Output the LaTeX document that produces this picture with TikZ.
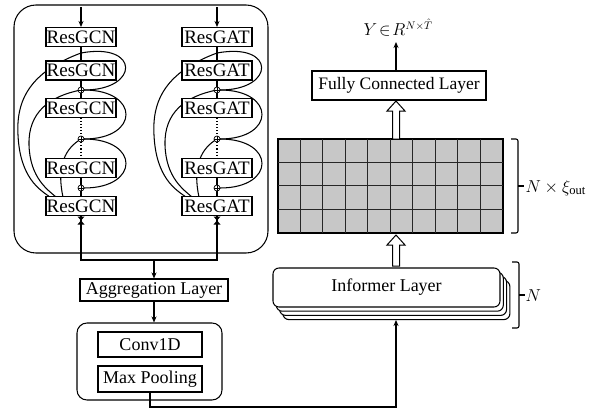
\documentclass[tikz,border=0pt]{standalone}
\usepackage{fontspec}
\setmainfont{Liberation Serif}
\usetikzlibrary{arrows.meta,calc}
\newcommand\fs{\fontsize{18}{20}\selectfont}
\newcommand\fb{\fontsize{19}{21}\selectfont}
\newcommand\mkcol[3]{%
\begin{scope}[xshift=#2]
\coordinate (#1top) at (81,7);
\coordinate (#1j) at (81,53);
\coordinate (#1p1) at (81,90);
\coordinate (#1p2) at (81,139);
\coordinate (#1p3) at (81,188);
% right residual curves
\draw (#1j) .. controls (140,42) and (140,90) .. (84,90);
\draw (84,90) .. controls (140,90) and (140,139) .. (84,139);
\draw (84,139) .. controls (140,139) and (140,188) .. (84,188);
% left dense curves
\draw (#1j) .. controls (30,72) and (16,100) .. (18,135) .. controls (20,178) and (40,190) .. (50,197);
\draw (#1p1) .. controls (50,96) and (28,112) .. (29,145) .. controls (30,178) and (48,190) .. (56,197);
\draw (#1p2) .. controls (66,148) and (56,165) .. (63,197);
\node[blk] (#1b1) at (81,37) {#3};
\node[blk] (#1b2) at (81,70.5) {#3};
\node[blk] (#1b3) at (81,108) {#3};
\node[blk] (#1b4) at (81,168) {#3};
\node[blk] (#1b5) at (81,206) {#3};
\node[sumc] (#1s1) at (#1p1) {};
\node[sumc] (#1s2) at (#1p2) {};
\node[sumc] (#1s3) at (#1p3) {};
\draw[->] (#1top) -- (#1b1.north);
\draw (#1b1.south) -- (#1b2.north);
\draw (#1b2.south) -- (#1s1.north);
\draw (#1s1.south) -- (#1b3.north);
\draw[dotted] (#1b3.south) -- (#1s2.north);
\draw[dotted] (#1s2.south) -- (#1b4.north);
\draw (#1b4.south) -- (#1s3.north);
\draw (#1s3.south) -- (#1b5.north);
\fill (77.5,216.5) -- (84.5,216.5) -- (81,220.5) -- cycle;
\fill (77.5,224.5) -- (84.5,224.5) -- (81,220.5) -- cycle;
\end{scope}}
\newcommand\hollowup[3]{%
\draw[fill=white, line width=1pt] (#1-3.5,#2) -- (#1-3.5,#3+10) -- (#1-9,#3+10) -- (#1,#3) -- (#1+9,#3+10) -- (#1+3.5,#3+10) -- (#1+3.5,#2) -- cycle;}
\begin{document}
\begin{tikzpicture}[x=1pt,y=-1pt, line width=1.05pt,
  >={Stealth[length=6pt,width=5pt]},
  blk/.style={draw, fill=white, minimum width=70pt, minimum height=19pt, inner sep=0pt, font=\fb},
  box/.style={draw, fill=white, inner sep=0pt, font=\fs},
  sumc/.style={draw, circle, fill=white, minimum size=6pt, inner sep=0pt, line width=0.7pt,
    path picture={\draw[line width=0.5pt] (path picture bounding box.north)--(path picture bounding box.south) (path picture bounding box.west)--(path picture bounding box.east);}},
  lab/.style={font=\fs, inner sep=0pt}]
\useasboundingbox (0,0) rectangle (611,410);
\node[draw, rounded corners=22pt, minimum width=254pt, minimum height=248pt, inner sep=0pt] (outer) at (141,129) {};
\mkcol{g}{0pt}{ResGCN}
\mkcol{a}{136pt}{ResGAT}
% aggregation
\node[box, minimum width=148pt, minimum height=22pt] (agg) at (154,290) {Aggregation Layer};
\coordinate (jn) at (154,260);
\draw (gb5.south) |- (jn);
\draw (ab5.south) |- (jn);
\draw[->] (jn) -- (agg.north);
\node[draw, rounded corners=10pt, minimum width=145pt, minimum height=77pt, inner sep=0pt] (cont) at (149.5,361.5) {};
\node[box, minimum width=104pt, minimum height=25pt] (conv) at (150,344.5) {Conv1D};
\node[box, minimum width=104pt, minimum height=26pt] (mp) at (150,379) {Max Pooling};
\draw[->] (agg.south) -- (agg.south |- cont.north);
% informer stack
\foreach \d in {9,6,3}
  \draw[fill=white, rounded corners=6pt] (273+\d*1.1,268+\d*1.4) rectangle (500+\d*1.1,307+\d*1.4);
\node[box, rounded corners=6pt, minimum width=227pt, minimum height=39pt] (inf) at (386.5,287.5) {Informer Layer};
\coordinate (infin) at (396,320);
\coordinate (bend) at (396,407);
\draw[->] (mp.south) |- (bend) -- (infin);
% grid
\node[draw, fill=black!22, minimum width=225pt, minimum height=94pt, inner sep=0pt] (grid) at (390.5,186) {};
\foreach \i in {1,...,9}
  \draw[line width=0.7pt, black!85] ($(grid.north west)+(\i*22.5,0)$) -- ($(grid.south west)+(\i*22.5,0)$);
\foreach \j in {1,2,3}
  \draw[line width=0.7pt, black!85] ($(grid.north west)+(0,\j*23.5)$) -- ($(grid.north east)+(0,\j*23.5)$);
\draw (grid.north west) rectangle (grid.south east);
\hollowup{396}{266}{235}
% FC
\node[box, font=\fontsize{17.5}{20}\selectfont, minimum width=174pt, minimum height=29pt] (fc) at (399,85.5) {Fully Connected Layer};
\hollowup{396}{139}{101}
\coordinate (yout) at (396,42);
\draw[->] (fc.north -| yout) -- (yout);
\node[lab, font=\fontsize{16}{18}\selectfont] (ylab) at (398,28) {$Y\!\in\! R^{N\times\hat{T}}$};
% braces
\draw[rounded corners=2pt] (511,139) -| (518,233) -- (511,233);
\draw (518,186) -- (524,186);
\node[lab, anchor=west] (gl) at (525,188) {$N\times\xi_{\mathrm{out}}$};
\draw[rounded corners=2pt] (512,262) -| (519,328) -- (512,328);
\draw (519,295) -- (525,295);
\node[lab, anchor=west] (nl) at (525,296) {$N$};
\end{tikzpicture}
\end{document}
